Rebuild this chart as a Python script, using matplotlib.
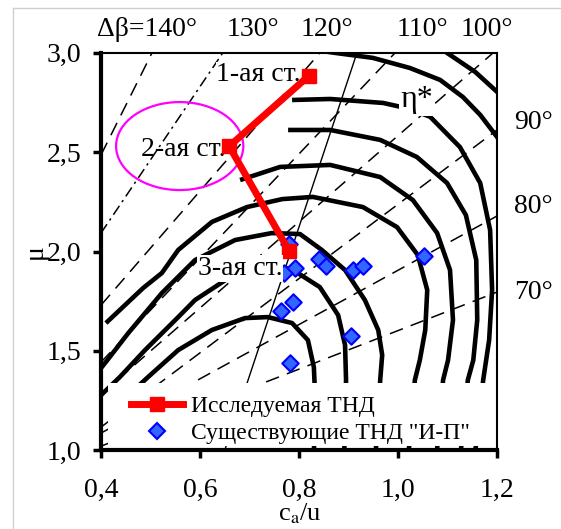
import matplotlib
matplotlib.use('Agg')
import matplotlib.pyplot as plt
from matplotlib.patches import Ellipse, Rectangle
from matplotlib.lines import Line2D

plt.rcParams['font.family'] = ['Liberation Serif', 'DejaVu Serif']
plt.rcParams['mathtext.fontset'] = 'stix'

# ---------------- data ----------------
x_ticks = [0.4, 0.6, 0.8, 1.0, 1.2]
x_tick_labels = ['0,4', '0,6', '0,8', '1,0', '1,2']
y_ticks = [1.0, 1.5, 2.0, 2.5, 3.0]
y_tick_labels = ['1,0', '1,5', '2,0', '2,5', '3,0']

# studied turbine (stages 1..3)
stage_x = [0.820, 0.659, 0.780]
stage_y = [2.885, 2.530, 2.003]
stage_labels = ['1-ая ст.', '2-ая ст.', '3-ая ст.']
stage_label_x = [0.804, 0.651, 0.766]
stage_label_y = [2.889, 2.512, 1.914]

# existing turbines
exist_x = [0.780, 0.792, 0.770, 0.841, 0.855, 0.910, 0.929, 1.053, 0.788, 0.764, 0.906, 0.782]
exist_y = [2.039, 1.916, 1.892, 1.963, 1.926, 1.907, 1.929, 1.980, 1.745, 1.703, 1.574, 1.438]

# eta* iso-lines (traced)
eta_A_x = [0.418, 0.495, 0.556, 0.624, 0.691, 0.737, 0.786, 0.818, 0.830, 0.832, 0.830]
eta_A_y = [1.191, 1.368, 1.504, 1.605, 1.665, 1.670, 1.640, 1.554, 1.418, 1.302, 0.950]
eta_B_x = [0.400, 0.438, 0.489, 0.556, 0.590, 0.661, 0.731, 0.788, 0.842, 0.879, 0.893, 0.895, 0.891]
eta_B_y = [1.277, 1.368, 1.504, 1.670, 1.756, 1.872, 1.947, 1.907, 1.821, 1.680, 1.529, 1.353, 0.950]
eta_C_x = [0.400, 0.408, 0.455, 0.523, 0.590, 0.671, 0.745, 0.802, 0.846, 0.893, 0.933, 0.960, 0.968, 0.964, 0.954]
eta_C_y = [1.413, 1.438, 1.589, 1.791, 1.957, 2.058, 2.093, 2.088, 2.008, 1.907, 1.756, 1.605, 1.479, 1.353, 0.950]
eta_D_x = [0.410, 0.485, 0.523, 0.556, 0.624, 0.695, 0.766, 0.828, 0.929, 0.998, 1.040, 1.059, 1.055, 1.044, 1.034, 1.020]
eta_D_y = [1.640, 1.816, 1.892, 2.008, 2.149, 2.224, 2.264, 2.275, 2.224, 2.123, 1.982, 1.806, 1.605, 1.453, 1.353, 0.950]
eta_E_x = [0.681, 0.762, 0.863, 0.964, 1.030, 1.079, 1.105, 1.111, 1.101, 1.091, 1.077]
eta_E_y = [2.360, 2.426, 2.436, 2.375, 2.259, 2.093, 1.907, 1.655, 1.453, 1.353, 0.950]
eta_F_x = [0.778, 0.863, 0.964, 1.038, 1.099, 1.137, 1.158, 1.160, 1.152, 1.141, 1.125]
eta_F_y = [2.612, 2.612, 2.562, 2.476, 2.345, 2.184, 1.957, 1.655, 1.453, 1.353, 0.950]
eta_G_x = [0.786, 0.863, 0.970, 1.024, 1.065, 1.125, 1.166, 1.186, 1.190, 1.184, 1.172, 1.154]
eta_G_y = [2.763, 2.768, 2.748, 2.718, 2.678, 2.526, 2.345, 2.108, 1.806, 1.554, 1.353, 0.950]
eta_H_x = [0.802, 0.873, 0.949, 1.024, 1.085, 1.131, 1.166, 1.200, 1.216]
eta_H_y = [3.025, 3.000, 2.975, 2.924, 2.864, 2.778, 2.688, 2.577, 2.511]
eta_I_x = [1.065, 1.099, 1.156, 1.200, 1.216]
eta_I_y = [3.065, 3.000, 2.904, 2.804, 2.763]

# optimum (thin) line
opt_x = [0.650, 0.917]
opt_y = [1.000, 3.000]

# delta-beta lines (end points)
db_names = ['140', '130', '120', '110', '100', '90', '80', '70']
db_x0 = [0.400, 0.400, 0.400, 0.400, 0.400, 0.400, 0.400, 0.400]
db_y0 = [2.486, 2.093, 1.730, 1.443, 1.282, 1.116, 1.086, 1.020]
db_x1 = [0.503, 0.646, 0.842, 0.994, 1.192, 1.200, 1.200, 1.200]
db_y1 = [3.000, 3.000, 3.000, 3.000, 3.000, 2.612, 2.179, 1.796]

top_labels = ['Δβ=140°', '130°', '120°', '110°', '100°']
top_label_x = [0.493, 0.707, 0.857, 1.050, 1.180]
right_labels = ['90°', '80°', '70°']
right_label_y = [2.652, 2.227, 1.793]

# ---------------- figure ----------------
fig = plt.figure(figsize=(5.61, 5.29), dpi=100)
ax = fig.add_axes([0.180, 0.149, 0.706, 0.751])
ax.set_xlim(0.4, 1.2)
ax.set_ylim(1.0, 3.0)

for x0, y0, x1, y1, nm in zip(db_x0, db_y0, db_x1, db_y1, db_names):
    ls = (0, (7, 3, 1.5, 3)) if nm == '130' else (0, (9, 5.5))
    ax.plot([x0, x1], [y0, y1], color='black', lw=1.1, linestyle=ls, zorder=2)

for cx, cy in [(eta_A_x, eta_A_y), (eta_B_x, eta_B_y), (eta_C_x, eta_C_y),
               (eta_D_x, eta_D_y), (eta_E_x, eta_E_y), (eta_F_x, eta_F_y),
               (eta_G_x, eta_G_y), (eta_H_x, eta_H_y), (eta_I_x, eta_I_y)]:
    ax.plot(cx, cy, color='black', lw=3.3, solid_capstyle='butt', zorder=2.5)

ax.plot(opt_x, opt_y, color='black', lw=1.0, zorder=2.6)

ax.text(1.038, 2.763, 'η*', fontsize=23, ha='center', va='center', zorder=3,
        bbox=dict(facecolor='white', edgecolor='none', pad=1))

ax.add_patch(Ellipse((0.559, 2.531), 0.257, 0.443, fill=False,
                     edgecolor='#FF00FF', lw=1.6, zorder=3.5))

ax.scatter(exist_x, exist_y, marker='D', s=70, facecolor='#3366FF',
           edgecolor='#0000FF', linewidth=1.5, zorder=4)

ax.plot(stage_x, stage_y, color='#FF0000', lw=5, marker='s', markersize=10,
        solid_joinstyle='miter', zorder=4.2)

for i, (tx, ty, tl) in enumerate(zip(stage_label_x, stage_label_y, stage_labels)):
    bb = None if i == 1 else dict(facecolor='white', edgecolor='none', pad=0.5)
    ax.text(tx, ty, tl, fontsize=20, ha='right', va='center', zorder=4.5 if i == 2 else 3.2,
            bbox=bb)

for tl, tx in zip(top_labels, top_label_x):
    ax.text(tx, 3.118, tl, fontsize=20, ha='center', va='center', clip_on=False)
for tl, ty in zip(right_labels, right_label_y):
    ax.text(1.234, ty, tl, fontsize=20, ha='left', va='center', clip_on=False)

# legend with white background
ax.add_patch(Rectangle((0.018, 0.010), 0.977, 0.160, transform=ax.transAxes,
                       facecolor='white', edgecolor='none', zorder=4.8))
h1 = Line2D([], [], color='#FF0000', lw=5, marker='s', markersize=10)
h2 = Line2D([], [], color='none', marker='D', markersize=8.5, markerfacecolor='#3366FF',
            markeredgecolor='#0000FF', markeredgewidth=1.5)
leg = ax.legend([h1, h2], ['Исследуемая ТНД', 'Существующие ТНД "И-П"'],
                loc='lower left', bbox_to_anchor=(0.075, 0.015), frameon=False,
                fontsize=17, handlelength=2.2, handletextpad=0.35, labelspacing=0.25,
                borderpad=0, borderaxespad=0)
leg.set_zorder(5)

ax.set_xticks(x_ticks)
ax.set_xticklabels(x_tick_labels)
ax.set_yticks(y_ticks)
ax.set_yticklabels(y_tick_labels)
ax.tick_params(axis='both', direction='out', length=6, width=2.5, labelsize=20)
ax.tick_params(axis='x', pad=14)
ax.tick_params(axis='y', pad=8)

for s in ['left', 'bottom']:
    ax.spines[s].set_linewidth(3)
for s in ['top', 'right']:
    ax.spines[s].set_linewidth(1.5)

ax.set_xlabel(r'c$_\mathrm{a}$/u', fontsize=19)
ax.xaxis.set_label_coords(0.503, -0.128)
ax.set_ylabel('μ', fontsize=20)
ax.yaxis.set_label_coords(-0.135, 0.5)

# light frame of the picture (top and left)
fig.add_artist(Line2D([13 / 561, 1.0], [1 - 8 / 529, 1 - 8 / 529], color='#d0d0d0', lw=1))
fig.add_artist(Line2D([13 / 561, 13 / 561], [0, 1 - 8 / 529], color='#d0d0d0', lw=1))

fig.savefig('out.png', dpi=100)
